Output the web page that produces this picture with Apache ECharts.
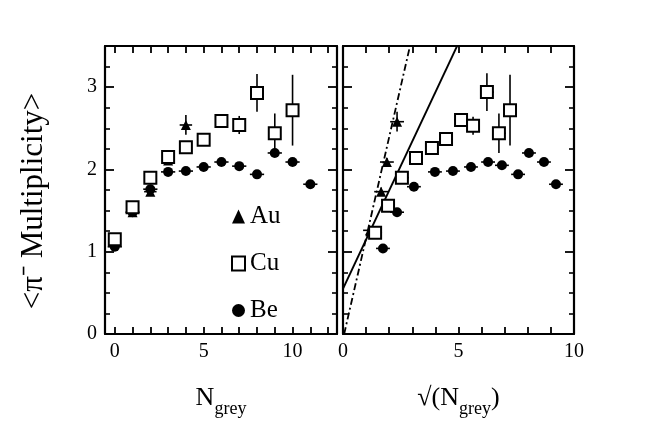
<!DOCTYPE html>
<html>
<head>
<meta charset="utf-8">
<script src="https://cdn.jsdelivr.net/npm/echarts@6/dist/echarts.min.js"></script>
<style>
  html, body { margin: 0; padding: 0; background: #fff; }
  #chart { width: 654px; height: 436px; }
</style>
</head>
<body>
<div id="chart"></div>
<script>
// left panel: vs N_grey
const cuX = [0, 1, 2, 3, 4, 5, 6, 7, 8, 9, 10];
const cuY = [1.15, 1.54, 1.90, 2.15, 2.27, 2.36, 2.59, 2.54, 2.93, 2.44, 2.72];
const cuErr = [0.04, 0.04, 0.04, 0.05, 0.05, 0.05, 0.06, 0.11, 0.23, 0.24, 0.43];
const beX = [0, 1, 2, 3, 4, 5, 6, 7, 8, 9, 10, 11];
const beY = [1.06, 1.48, 1.76, 1.97, 1.98, 2.03, 2.09, 2.04, 1.94, 2.20, 2.09, 1.82];
const auX = [0, 1, 2, 3, 4];
const auY = [1.15, 1.48, 1.73, 2.11, 2.54];
const auErr = [0.05, 0.05, 0.05, 0.05, 0.12];

// right panel: vs sqrt(N_grey)
const cuXr = [1.39, 1.95, 2.55, 3.16, 3.85, 4.46, 5.11, 5.63, 6.23, 6.75, 7.23];
const cuYr = [1.23, 1.56, 1.90, 2.14, 2.26, 2.37, 2.60, 2.53, 2.94, 2.44, 2.72];
const beXr = [1.73, 2.34, 3.07, 3.98, 4.76, 5.54, 6.28, 6.88, 7.58, 8.05, 8.70, 9.22];
const beYr = [1.04, 1.48, 1.79, 1.97, 1.98, 2.03, 2.09, 2.05, 1.94, 2.20, 2.09, 1.82];
const auXr = [1.17, 1.65, 1.90, 2.34];
const auYr = [1.26, 1.73, 2.09, 2.58];
const auErrR = [0.05, 0.05, 0.05, 0.12];

// model lines in right panel
const dashLineX = [0.05, 2.9];
const dashLineY = [0, 3.5];
const solidLineX = [0, 4.94];
const solidLineY = [0.55, 3.5];

const yTickLabels = [0, 1, 2, 3];
const xTickLabels = [0, 5, 10];

const FONT = 'Liberation Serif';
const chart = echarts.init(document.getElementById('chart'));

const zip = (xs, ys) => xs.map((x, i) => [x, ys[i]]);
const errData = (xs, ys, errs, hw) => xs.map((x, i) => [x, ys[i], ys[i] - errs[i], ys[i] + errs[i], hw]);

function errRender(params, api) {
  const x = api.value(0), y = api.value(1);
  const lo = api.coord([x, api.value(2)]);
  const hi = api.coord([x, api.value(3)]);
  const hw = api.value(4);
  const h1 = api.coord([x - hw, y]);
  const h2 = api.coord([x + hw, y]);
  const st = { stroke: '#000', lineWidth: 1.6 };
  return {
    type: 'group',
    children: [
      { type: 'line', shape: { x1: lo[0], y1: lo[1], x2: hi[0], y2: hi[1] }, style: st },
      { type: 'line', shape: { x1: h1[0], y1: h1[1], x2: h2[0], y2: h2[1] }, style: st }
    ]
  };
}

function xAxisFor(gi, min, max, ticks, pos, showLabel, name) {
  return {
    gridIndex: gi, type: 'value', min: min, max: max, position: pos,
    name: name || '', nameLocation: 'middle', nameGap: 44,
    nameTextStyle: {
      fontFamily: FONT, fontSize: 26, color: '#000',
      rich: { sub: { fontFamily: FONT, fontSize: 18, color: '#000', verticalAlign: 'bottom', padding: [22, 0, 0, 0] } }
    },
    axisLine: { show: true, onZero: false, lineStyle: { color: '#000', width: 2.2 } },
    axisTick: { show: true, inside: true, length: 7, customValues: ticks, lineStyle: { color: '#000', width: 1.8 } },
    axisLabel: { show: showLabel, customValues: xTickLabels, fontFamily: FONT, fontSize: 20, color: '#000', margin: 8 },
    splitLine: { show: false }
  };
}

function yAxisFor(gi, pos, showLabel, name) {
  return {
    gridIndex: gi, type: 'value', min: 0, max: 3.5, interval: 1, position: pos,
    name: name || '', nameLocation: 'middle', nameGap: 56,
    nameTextStyle: { fontFamily: FONT, fontSize: 31, color: '#000', padding: [0, 22, 0, 0] },
    axisLine: { show: true, onZero: false, lineStyle: { color: '#000', width: 2.2 } },
    axisTick: { show: true, inside: true, length: 9, lineStyle: { color: '#000', width: 1.8 } },
    minorTick: { show: true, splitNumber: 4, length: 5, lineStyle: { color: '#000', width: 1.6 } },
    axisLabel: {
      show: showLabel, fontFamily: FONT, fontSize: 20, color: '#000', margin: 8,
      formatter: v => (yTickLabels.indexOf(v) >= 0 ? String(v) : '')
    },
    splitLine: { show: false }
  };
}

const leftTicks = [0, 1, 2, 3, 4, 5, 6, 7, 8, 9, 10, 11, 12];
const rightTicks = [0, 1, 2, 3, 4, 5, 6, 7, 8, 9, 10];

const cuStyle = { color: '#fff', borderColor: '#000', borderWidth: 2, opacity: 1 };
const fillStyle = { color: '#000', opacity: 1 };

const option = {
  backgroundColor: '#fff',
  animation: false,
  grid: [
    { left: 105, top: 46, width: 232, height: 288 },
    { left: 343, top: 46, width: 231, height: 288 }
  ],
  xAxis: [
    xAxisFor(0, -0.55, 12.5, leftTicks, 'bottom', true, 'N{sub|grey}'),
    xAxisFor(0, -0.55, 12.5, leftTicks, 'top', false),
    xAxisFor(1, 0, 10, rightTicks, 'bottom', true, '√(N{sub|grey})'),
    xAxisFor(1, 0, 10, rightTicks, 'top', false)
  ],
  yAxis: [
    yAxisFor(0, 'left', true, '<π⁻ Multiplicity>'),
    yAxisFor(0, 'right', false),
    yAxisFor(1, 'left', false),
    yAxisFor(1, 'right', false)
  ],
  legend: {
    orient: 'vertical', left: 226, top: 199, itemGap: 22,
    itemWidth: 13, itemHeight: 14,
    data: ['Au', 'Cu', 'Be'],
    textStyle: { fontFamily: FONT, fontSize: 25, color: '#000' }
  },
  series: [
    // error bars
    { type: 'custom', xAxisIndex: 0, yAxisIndex: 0, renderItem: errRender, data: errData(cuX, cuY, cuErr, 0.35), z: 1 },
    { type: 'custom', xAxisIndex: 0, yAxisIndex: 0, renderItem: errRender, data: errData(auX, auY, auErr, 0.35), z: 1 },
    { type: 'custom', xAxisIndex: 0, yAxisIndex: 0, renderItem: errRender, data: errData(beX, beY, beX.map(() => 0.03), 0.4), z: 1 },
    { type: 'custom', xAxisIndex: 2, yAxisIndex: 2, renderItem: errRender, data: errData(cuXr, cuYr, cuErr, 0.3), z: 1 },
    { type: 'custom', xAxisIndex: 2, yAxisIndex: 2, renderItem: errRender, data: errData(auXr, auYr, auErrR, 0.3), z: 1 },
    { type: 'custom', xAxisIndex: 2, yAxisIndex: 2, renderItem: errRender, data: errData(beXr, beYr, beXr.map(() => 0.03), 0.3), z: 1 },
    // model lines
    {
      type: 'line', xAxisIndex: 2, yAxisIndex: 2, data: zip(dashLineX, dashLineY), symbol: 'none',
      lineStyle: { color: '#000', width: 1.8, type: [7, 3, 2, 3] }, clip: true
    },
    {
      type: 'line', xAxisIndex: 2, yAxisIndex: 2, data: zip(solidLineX, solidLineY), symbol: 'none',
      lineStyle: { color: '#000', width: 1.8 }, clip: true
    },
    // markers
    { name: 'Au', type: 'scatter', xAxisIndex: 0, yAxisIndex: 0, data: zip(auX, auY), symbol: 'triangle', symbolSize: 10, itemStyle: fillStyle, z: 3 },
    { name: 'Cu', type: 'scatter', xAxisIndex: 0, yAxisIndex: 0, data: zip(cuX, cuY), symbol: 'rect', symbolSize: 12, itemStyle: cuStyle, z: 4 },
    { name: 'Be', type: 'scatter', xAxisIndex: 0, yAxisIndex: 0, data: zip(beX, beY), symbol: 'circle', symbolSize: 10, itemStyle: fillStyle, z: 3 },
    { name: 'Au', type: 'scatter', xAxisIndex: 2, yAxisIndex: 2, data: zip(auXr, auYr), symbol: 'triangle', symbolSize: 10, itemStyle: fillStyle, z: 3 },
    { name: 'Cu', type: 'scatter', xAxisIndex: 2, yAxisIndex: 2, data: zip(cuXr, cuYr), symbol: 'rect', symbolSize: 12, itemStyle: cuStyle, z: 4 },
    { name: 'Be', type: 'scatter', xAxisIndex: 2, yAxisIndex: 2, data: zip(beXr, beYr), symbol: 'circle', symbolSize: 10, itemStyle: fillStyle, z: 3 }
  ]
};

chart.setOption(option);
</script>
</body>
</html>
